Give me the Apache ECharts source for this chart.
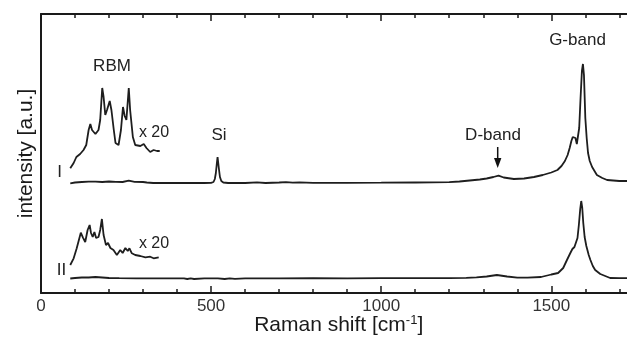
<!DOCTYPE html>
<html>
<head>
<meta charset="utf-8">
<script src="https://cdn.jsdelivr.net/npm/echarts@6/dist/echarts.min.js"></script>
<style>html,body{margin:0;padding:0;background:#fff;}#c{width:627px;height:338px;}</style>
</head>
<body>
<div id="c"></div>
<script>
// Raman spectrum I (with Si peak), arbitrary units
const shiftI = [86,100,120,140,160,180,200,220,240,258,275,300,311,330,380,430,480,500,507,511,514,517,519,521,523,526,530,536,550,600,635,660,700,720,740,760,800,900,1000,1100,1200,1230,1260,1290,1310,1330,1345,1360,1390,1420,1449,1475,1500,1518,1530,1540,1548,1554,1559,1563,1567,1571,1575,1578,1582,1586,1590,1593,1596,1600,1604,1608,1613,1620,1634,1650,1664,1700,1750];
const intensityI = [109.7,110.5,111,111.3,111.3,111,111.5,111.2,111,112.3,111.2,111,110.5,110,110,110,110,110.2,111,114,120,130,136,134,124,116,112,110.5,110,110,110.6,110,110.5,110.8,110.3,110.6,110.2,110.2,110.3,110.5,110.8,111.5,112.5,113.5,114.5,116,117.3,115.5,114,114.5,116,118,120.5,123,127,132,138,145,152,156,158,155,149,150,165,195,222,229,218,175,155,140,132,126,118,115,113,112,112];
// Raman spectrum II
const shiftII = [86,100,120,140,160,180,200,230,280,350,420,430,440,450,480,520,540,555,570,600,700,800,900,1000,1100,1200,1250,1280,1310,1340,1370,1400,1430,1470,1500,1520,1535,1546,1556,1562,1568,1573,1577,1581,1585,1588,1591,1594,1598,1603,1610,1615,1622,1629,1644,1673,1700,1750];
const intensityII = [14.5,15,15.5,15.5,16,15.5,15,14.8,14.7,14.7,14.7,14,14.6,14,14.7,14.7,14,14.7,14.2,14.7,14.7,14.8,14.7,14.8,14.8,14.9,15.2,15.6,16.5,18,16.5,15.3,15.3,16,18.5,20,25,33,40,44,46,48,55,68,84,92,85,70,56,47,38,33,27,23,19,15,14.8,14.8];
// RBM region x20 (offset), spectrum I
const rbmShiftI = [86,96,104,115,125,133,140,145,150,155,160,169,174,180,184,189,194,202,207,214,219,228,235,241,246,251,258,262,270,277,292,302,310,321,331,341,349];
const rbmIntensityI = [124.7,130,136,139,143,148,163,169,163,165,159,163,173,205,196,178,183,192,183,163,150,148,163,186,177,173,205,183,156,148,147,149,145,141,143,142,142];
// RBM region x20 (offset), spectrum II
const rbmShiftII = [86,96,105,117,123,130,137,143,147,152,157,162,169,174,179,184,191,197,204,213,223,233,240,248,255,260,267,277,292,307,321,331,346];
const rbmIntensityII = [28,34.7,44.7,60.3,55.7,51,63,68,60,56,61,55,56,63,74,58,48,50,45,43,38,43,40,45,42,44.7,39.7,38,37,35.7,36.3,34.7,35.7];
const xTickValues = [0, 500, 1000, 1500];

const pairs = (xs, ys) => xs.map((x, i) => [x, ys[i]]);
const FONT = 'Liberation Sans, Arial, sans-serif';
const INK = '#1a1a1a';

const chart = echarts.init(document.getElementById('c'), null, {renderer: 'canvas'});
const lineSeries = (name, xs, ys) => ({
  name, type: 'line', data: pairs(xs, ys), showSymbol: false, symbol: 'none',
  lineStyle: {color: '#1e1e1e', width: 1.8}, animation: false, silent: true
});
const axisCommon = {
  type: 'value', min: 0, max: 2000, interval: 500,
  axisLine: {show: true, lineStyle: {color: INK, width: 2}},
  axisTick: {show: true, inside: true, length: 7, lineStyle: {color: INK, width: 1.5}},
  minorTick: {show: true, splitNumber: 5, length: 4, lineStyle: {color: INK, width: 1.5}},
  splitLine: {show: false}, minorSplitLine: {show: false}
};
chart.setOption({
  animation: false,
  backgroundColor: '#fff',
  grid: {left: 41, top: 14, width: 680.4, height: 279, containLabel: false, outerBoundsMode: 'none'},
  xAxis: [
    Object.assign({}, axisCommon, {
      position: 'bottom',
      axisLabel: {show: true, fontSize: 17, color: '#333', fontFamily: FONT, margin: 5,
        formatter: v => xTickValues.includes(v) ? String(v) : ''},
      name: 'Raman shift [cm{s|-1}]', nameLocation: 'middle', nameGap: 21, nameMoveOverlap: false,
      nameTextStyle: {fontSize: 21, color: INK, fontFamily: FONT, padding: [0, 85, 0, 0],
        rich: {s: {fontSize: 13, color: INK, fontFamily: FONT, verticalAlign: 'top', padding: [0, 0, 10, 0]}}}
    }),
    Object.assign({}, axisCommon, {position: 'top', axisLabel: {show: false}})
  ],
  yAxis: {
    type: 'value', min: 0, max: 279,
    axisLine: {show: true, lineStyle: {color: INK, width: 2}},
    axisTick: {show: false}, axisLabel: {show: false}, splitLine: {show: false},
    name: 'intensity [a.u.]', nameLocation: 'middle', nameGap: 4, nameMoveOverlap: false,
    nameTextStyle: {fontSize: 21, color: INK, fontFamily: FONT}
  },
  series: [
    lineSeries('I', shiftI, intensityI),
    lineSeries('II', shiftII, intensityII),
    lineSeries('I x20', rbmShiftI, rbmIntensityI),
    lineSeries('II x20', rbmShiftII, rbmIntensityII)
  ],
  graphic: [
    {type: 'text', x: 112, y: 66, style: {text: 'RBM', font: '17px ' + FONT, fill: '#222', textAlign: 'center', textVerticalAlign: 'middle'}},
    {type: 'text', x: 154, y: 133, style: {text: 'x 20', font: '16px ' + FONT, fill: '#222', textAlign: 'center', textVerticalAlign: 'middle'}},
    {type: 'text', x: 154, y: 244, style: {text: 'x 20', font: '16px ' + FONT, fill: '#222', textAlign: 'center', textVerticalAlign: 'middle'}},
    {type: 'text', x: 219, y: 135, style: {text: 'Si', font: '17px ' + FONT, fill: '#222', textAlign: 'center', textVerticalAlign: 'middle'}},
    {type: 'text', x: 59.5, y: 172, style: {text: 'I', font: '17px ' + FONT, fill: '#222', textAlign: 'center', textVerticalAlign: 'middle'}},
    {type: 'text', x: 61.5, y: 270, style: {text: 'II', font: '17px ' + FONT, fill: '#222', textAlign: 'center', textVerticalAlign: 'middle'}},
    {type: 'text', x: 493, y: 135, style: {text: 'D-band', font: '17px ' + FONT, fill: '#222', textAlign: 'center', textVerticalAlign: 'middle'}},
    {type: 'text', x: 577.5, y: 40.5, style: {text: 'G-band', font: '17px ' + FONT, fill: '#222', textAlign: 'center', textVerticalAlign: 'middle'}},
    {type: 'line', shape: {x1: 497.7, y1: 147, x2: 497.7, y2: 160}, style: {stroke: '#111', lineWidth: 1.5}},
    {type: 'polygon', shape: {points: [[494, 158], [501.4, 158], [497.7, 168]]}, style: {fill: '#111'}}
  ]
});
</script>
</body>
</html>
